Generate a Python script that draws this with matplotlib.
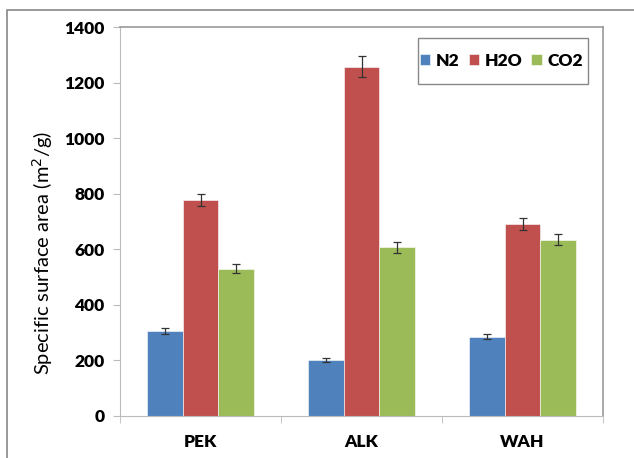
import matplotlib.pyplot as plt
import numpy as np
from matplotlib.patches import Rectangle

categories = ["PEK", "ALK", "WAH"]
series = ["N2", "H2O", "CO2"]
n2 = [305, 203, 285]
h2o = [778, 1257, 690]
co2 = [530, 607, 635]
n2_err = [10, 7, 9]
h2o_err = [22, 38, 22]
co2_err = [16, 20, 20]
colors = ["#4F81BD", "#C0504D", "#9BBB59"]

plt.rcParams['font.family'] = ['Lato', 'DejaVu Sans']

fig = plt.figure(figsize=(6.34, 4.58), dpi=100)
ax = fig.add_axes([120 / 634, 42 / 458, 483 / 634, 389 / 458])

# outer chart border
fig.patches.append(Rectangle((7 / 634, -0.05), 1.0, (448 / 458) + 0.05,
                             transform=fig.transFigure, fill=False,
                             edgecolor="#888888", linewidth=1.2))

x = np.arange(len(categories))
w = 0.22
for i, (vals, errs) in enumerate([(n2, n2_err), (h2o, h2o_err), (co2, co2_err)]):
    ax.bar(x + (i - 1) * w, vals, w, color=colors[i], label=series[i],
           edgecolor="white", linewidth=0.4,
           yerr=errs, error_kw=dict(ecolor="#333333", elinewidth=0.9,
                                    capsize=3, capthick=0.9))

ax.set_xlim(-0.5, 2.5)
ax.set_ylim(0, 1400)
ax.set_yticks(range(0, 1401, 200))
ax.set_xticks(x)
ax.set_xticklabels(categories, fontsize=12.5, fontweight="heavy")
ax.set_xticks([-0.5, 0.5, 1.5, 2.5], minor=True)
ax.tick_params(axis="x", which="major", length=0, pad=13)
ax.tick_params(axis="x", which="minor", length=5, color="#BBBBBB")
ax.tick_params(axis="y", length=5, color="#BBBBBB", pad=6)
for lab in ax.get_yticklabels():
    lab.set_fontweight("heavy")
    lab.set_fontsize(12.5)

for s in ["left", "bottom"]:
    ax.spines[s].set_color("#BBBBBB")
for s in ["top", "right"]:
    ax.spines[s].set_color("#999999")
    ax.spines[s].set_linewidth(1.2)

ax.set_ylabel("Specific surface area (m$^2$/g)", fontsize=14.5)
ax.yaxis.set_label_coords(-0.135, 0.42)

# legend without its own frame; box drawn separately like the Excel one
leg = ax.legend(ncol=3, loc="center", bbox_to_anchor=(0.79, 0.913),
                borderaxespad=0, frameon=False, borderpad=0,
                handlelength=0.6, handleheight=0.6, handletextpad=0.35,
                columnspacing=0.5, prop=dict(weight="heavy", size=12.5))
ax.add_patch(Rectangle((0.617, 0.853), 0.352, 0.119, transform=ax.transAxes,
                       fill=False, edgecolor="#888888", linewidth=1.0,
                       zorder=5))

fig.savefig("out.png", dpi=100)
